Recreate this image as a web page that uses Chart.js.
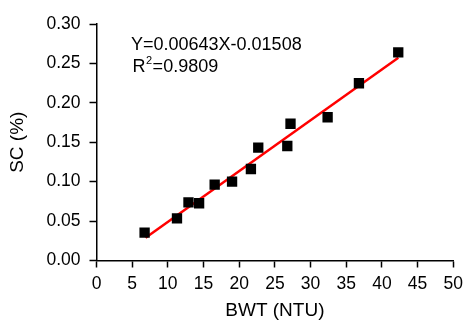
<!DOCTYPE html>
<html>
<head>
<meta charset="utf-8">
<script src="https://cdn.jsdelivr.net/npm/chart.js@4/dist/chart.umd.min.js"></script>
<style>
html,body{margin:0;padding:0;background:#fff;}
#wrap{width:469px;height:321px;position:relative;}
</style>
</head>
<body>
<div id="wrap"><canvas id="c" width="469" height="321"></canvas></div>
<script>
// Data
const bwt = [6.74, 11.28, 12.89, 14.38, 16.56, 19.0, 21.64, 22.67, 26.74, 27.19, 32.39, 36.78, 42.29];
const sc  = [0.0353, 0.0535, 0.0738, 0.0726, 0.0962, 0.1000, 0.1161, 0.1431, 0.1452, 0.1735, 0.1817, 0.2248, 0.2641];
const fitX = [6.88, 42.3];
const fitY = [0.0289, 0.2573];
const xTickLabels = ['0','5','10','15','20','25','30','35','40','45','50'];
const yTickLabels = ['0.00','0.05','0.10','0.15','0.20','0.25','0.30'];
const xTitle = 'BWT (NTU)';
const yTitle = 'SC (%)';
const eqText = 'Y=0.00643X-0.01508';
const r2Label = 'R';
const r2Sup = '2';
const r2Value = '=0.9809';

const FONT = '"Liberation Sans", Arial, Helvetica, sans-serif';

const annot = {
  id: 'annot',
  afterDraw(chart) {
    const ctx = chart.ctx;
    ctx.save();
    ctx.fillStyle = '#000';
    ctx.textAlign = 'left';
    ctx.textBaseline = 'alphabetic';
    ctx.font = '18px ' + FONT;
    ctx.fillText(eqText, 131, 50);
    ctx.fillText(r2Label, 132.5, 72);
    const w = ctx.measureText(r2Label).width;
    ctx.font = '11px ' + FONT;
    ctx.fillText(r2Sup, 132.5 + w + 0.5, 64);
    const w2 = ctx.measureText(r2Sup).width;
    ctx.font = '18px ' + FONT;
    ctx.fillText(r2Value, 132.5 + w + w2 + 1, 72);
    ctx.restore();
  }
};

const pts = bwt.map((x, i) => ({x: x, y: sc[i]}));
const fit = fitX.map((x, i) => ({x: x, y: fitY[i]}));

new Chart(document.getElementById('c'), {
  type: 'scatter',
  data: {
    datasets: [
      {
        data: fit,
        showLine: true,
        borderColor: '#ff0000',
        borderWidth: 2.5,
        pointRadius: 0,
        fill: false,
        order: 1
      },
      {
        data: pts,
        pointStyle: 'rect',
        pointRadius: 7.3,
        backgroundColor: '#000',
        borderColor: '#000',
        borderWidth: 0,
        order: 0
      }
    ]
  },
  options: {
    responsive: false,
    animation: false,
    devicePixelRatio: 1,
    layout: {padding: {top: 24, right: 12.5, left: 0, bottom: 0}},
    plugins: {legend: {display: false}, tooltip: {enabled: false}},
    scales: {
      x: {
        type: 'linear',
        min: 0, max: 50,
        afterBuildTicks(s) { s.ticks = xTickLabels.map(v => ({value: parseFloat(v)})); },
        ticks: {
          color: '#000',
          font: {family: FONT, size: 17.5},
          padding: 6,
          maxRotation: 0,
          callback: (v, i) => xTickLabels[i]
        },
        grid: {drawOnChartArea: false, drawTicks: true, tickLength: 7, tickColor: '#000', tickWidth: 1.5},
        border: {display: true, color: '#000', width: 1.5},
        title: {display: true, text: xTitle, color: '#000', font: {family: FONT, size: 19, lineHeight: 1}, padding: {top: 0, bottom: 1}},
        afterFit(s) { s.height = 60.5; }
      },
      y: {
        type: 'linear',
        min: 0, max: 0.30,
        afterBuildTicks(s) { s.ticks = yTickLabels.map(v => ({value: parseFloat(v)})); },
        ticks: {
          color: '#000',
          font: {family: FONT, size: 17.5},
          padding: 9,
          callback: (v, i) => yTickLabels[i]
        },
        grid: {drawOnChartArea: false, drawTicks: true, tickLength: 7, tickColor: '#000', tickWidth: 1.5},
        border: {display: true, color: '#000', width: 1.5},
        title: {display: true, text: yTitle, color: '#000', font: {family: FONT, size: 19, lineHeight: 1}, padding: {top: 8, bottom: 0}},
        afterFit(s) { s.width = 96.5; }
      }
    }
  },
  plugins: [annot]
});
</script>
</body>
</html>
